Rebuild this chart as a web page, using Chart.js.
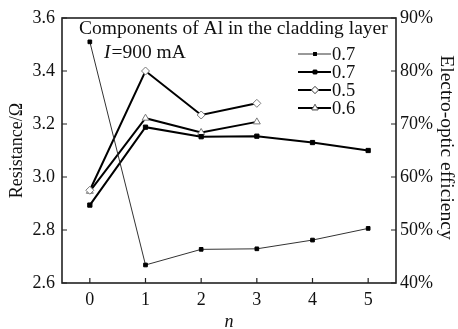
<!DOCTYPE html>
<html>
<head>
<meta charset="utf-8">
<script src="https://cdn.jsdelivr.net/npm/chart.js@4"></script>
<style>
  html, body { margin: 0; padding: 0; background: #fff; }
  #wrap { width: 458px; height: 329px; }
</style>
</head>
<body>
<div id="wrap"><canvas id="chart"></canvas></div>
<script>
const nValues = [0, 1, 2, 3, 4, 5];

// resistance, left axis (Ω)
const resistance07 = [3.51, 2.668, 2.727, 2.729, 2.762, 2.806];
// electro-optic efficiency, right axis (%)
const efficiency07 = [54.7, 69.4, 67.6, 67.7, 66.5, 65.0];
const efficiency05 = [57.5, 80.0, 71.7, 73.9];
const efficiency06 = [57.3, 71.1, 68.4, 70.4];

const leftTicks = [2.6, 2.8, 3.0, 3.2, 3.4, 3.6];
const rightTicks = [40, 50, 60, 70, 80, 90];

const FONT = '"Liberation Serif", "DejaVu Serif", serif';

const toXY = (vals) => vals.map((v, i) => ({ x: nValues[i], y: v }));

const series = [
    { label: '0.7', data: toXY(resistance07), axis: 'y', color: '#333', width: 1, style: 'rect', fill: '#000', radius: 2.6 },
    { label: '0.7', data: toXY(efficiency07), axis: 'y1', color: '#000', width: 2, style: 'rect', fill: '#000', radius: 3 },
    { label: '0.5', data: toXY(efficiency05), axis: 'y1', color: '#000', width: 2, style: 'rectRot', fill: '#fff', radius: 4 },
    { label: '0.6', data: toXY(efficiency06), axis: 'y1', color: '#000', width: 2, style: 'triangle', fill: '#fff', radius: 4 },
];

function rotatedText(ctx, text, x, y, angle, font) {
    ctx.save();
    ctx.translate(x, y);
    ctx.rotate(angle);
    ctx.font = font;
    ctx.textAlign = 'center';
    ctx.textBaseline = 'middle';
    ctx.fillText(text, 0, 0);
    ctx.restore();
}

// box around the plot, inward ticks, axis titles, the notes and the legend
const decorations = {
    id: 'decorations',
    afterDraw(chart) {
        const { ctx, chartArea: a, scales } = chart;
        ctx.save();
        ctx.strokeStyle = '#222';
        ctx.lineWidth = 1.6;
        ctx.strokeRect(a.left, a.top, a.right - a.left, a.bottom - a.top);

        ctx.lineWidth = 1.2;
        ctx.beginPath();
        nValues.forEach(v => {
            const px = scales.x.getPixelForValue(v);
            ctx.moveTo(px, a.bottom); ctx.lineTo(px, a.bottom - 5);
        });
        leftTicks.forEach(v => {
            const py = scales.y.getPixelForValue(v);
            ctx.moveTo(a.left, py); ctx.lineTo(a.left + 5, py);
        });
        rightTicks.forEach(v => {
            const py = scales.y1.getPixelForValue(v);
            ctx.moveTo(a.right, py); ctx.lineTo(a.right - 5, py);
        });
        ctx.stroke();

        ctx.fillStyle = '#111';
        const midY = (a.top + a.bottom) / 2;
        rotatedText(ctx, 'Resistance/Ω', 17, midY, -Math.PI / 2, '18px ' + FONT);
        rotatedText(ctx, 'Electro-optic efficiency', 446, midY - 3, Math.PI / 2, '19.5px ' + FONT);
        ctx.font = 'italic 18px ' + FONT;
        ctx.textAlign = 'center';
        ctx.textBaseline = 'middle';
        ctx.fillText('n', (a.left + a.right) / 2, 322);

        ctx.textAlign = 'left';
        ctx.font = '19.5px ' + FONT;
        ctx.fillText('Components of Al in the cladding layer', 79, 29);
        ctx.font = 'italic 19.5px ' + FONT;
        ctx.fillText('I', 104, 53);
        const iw = ctx.measureText('I').width;
        ctx.font = '19.5px ' + FONT;
        ctx.fillText('=900 mA', 104 + iw + 1, 53);

        // legend rows
        series.forEach((s, i) => {
            const y = 54 + i * 18;
            ctx.strokeStyle = s.color;
            ctx.lineWidth = s.width;
            ctx.beginPath();
            ctx.moveTo(298, y); ctx.lineTo(331, y);
            ctx.stroke();
            ctx.fillStyle = s.fill;
            ctx.lineWidth = 1;
            Chart.helpers.drawPoint(ctx, { pointStyle: s.style, radius: s.radius - 0.5, borderWidth: 1 }, 315, y);
            ctx.fill();
            ctx.strokeStyle = s.fill === '#fff' ? '#777' : '#000';
            ctx.stroke();
            ctx.fillStyle = '#111';
            ctx.font = '18.5px ' + FONT;
            ctx.fillText(s.label, 332, y + 1);
        });
        ctx.restore();
    }
};

new Chart(document.getElementById('chart'), {
    type: 'line',
    data: {
        datasets: series.map(s => ({
            label: s.label,
            data: s.data,
            yAxisID: s.axis,
            borderColor: s.color,
            borderWidth: s.width,
            pointStyle: s.style,
            pointRadius: s.radius,
            pointBackgroundColor: s.fill,
            pointBorderColor: s.fill === '#fff' ? '#777' : '#000',
            pointBorderWidth: 1,
            tension: 0,
        }))
    },
    options: {
        responsive: true,
        maintainAspectRatio: false,
        animation: false,
        layout: { padding: { top: 18, bottom: 0, left: 0, right: 0 } },
        plugins: { legend: { display: false }, tooltip: { enabled: false } },
        scales: {
            x: {
                type: 'linear',
                min: -0.5,
                max: 5.5,
                afterBuildTicks: (scale) => { scale.ticks = nValues.map(v => ({ value: v })); },
                afterFit: (scale) => { scale.height = 46; },
                grid: { display: false, drawTicks: false },
                border: { display: false },
                ticks: { color: '#111', padding: 6, font: { family: FONT, size: 18 } },
            },
            y: {
                position: 'left',
                min: 2.6,
                max: 3.6,
                afterBuildTicks: (scale) => { scale.ticks = leftTicks.map(v => ({ value: v })); },
                afterFit: (scale) => { scale.width = 62; },
                grid: { display: false, drawTicks: false },
                border: { display: false },
                ticks: { color: '#111', padding: 7, callback: v => v.toFixed(1), font: { family: FONT, size: 18 } },
            },
            y1: {
                position: 'right',
                min: 40,
                max: 90,
                afterBuildTicks: (scale) => { scale.ticks = rightTicks.map(v => ({ value: v })); },
                afterFit: (scale) => { scale.width = 62; },
                grid: { display: false, drawTicks: false },
                border: { display: false },
                ticks: { color: '#111', padding: 4, callback: v => v + '%', font: { family: FONT, size: 18 } },
            }
        }
    },
    plugins: [decorations]
});
</script>
</body>
</html>
